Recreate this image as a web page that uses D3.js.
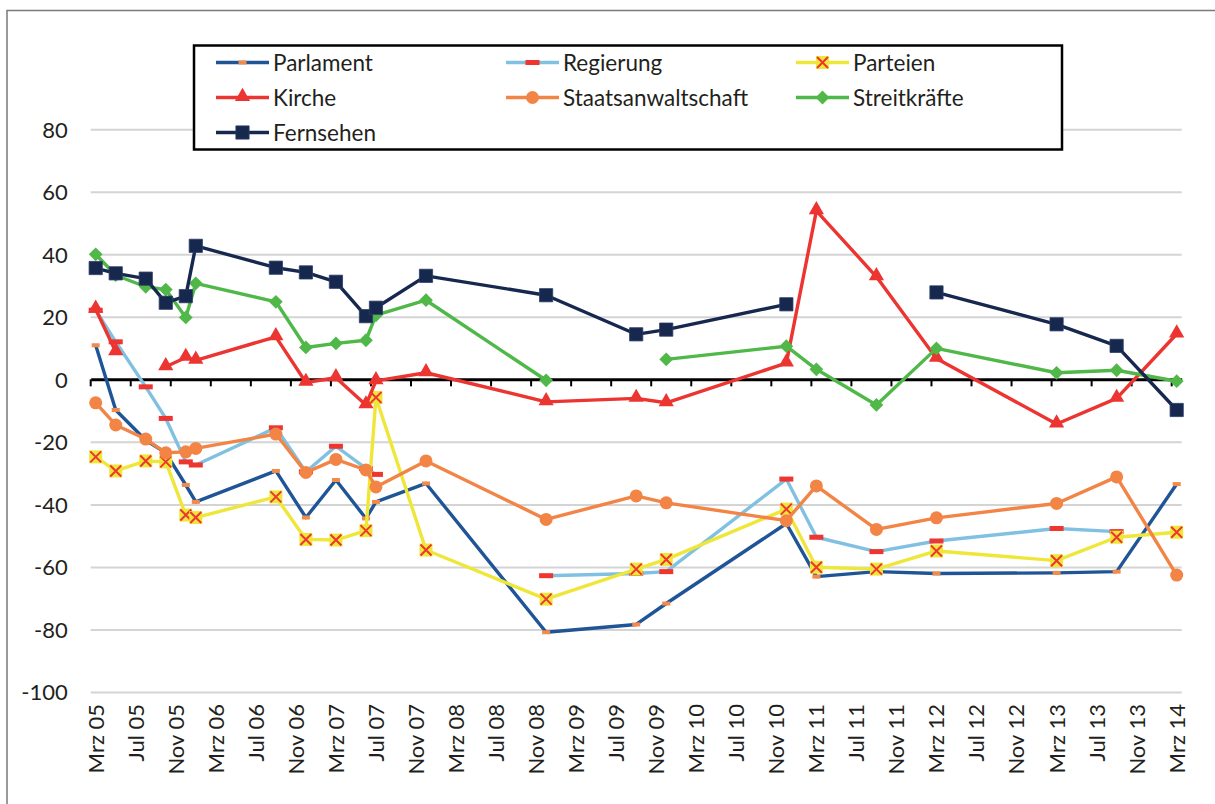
<!DOCTYPE html>
<html>
<head>
<meta charset="utf-8">
<script src="https://cdn.jsdelivr.net/npm/d3@7"></script>
<style>
  body { margin: 0; background: #fff; }
  text { font-family: Lato, "Open Sans", sans-serif; fill: #231f20; }
</style>
</head>
<body>
<div id="chart"></div>
<script>
// survey months (YYYY-MM)
const surveyDates = ['2005-03','2005-05','2005-08','2005-10','2005-12','2006-01','2006-09','2006-12',
  '2007-03','2007-06','2007-07','2007-12','2008-12','2009-09','2009-12','2010-12','2011-03','2011-09',
  '2012-03','2013-03','2013-09','2014-03'];

const parlament = [10.9, -9.8, -19.5, -23.5, -33.8, -39.2, -29.3, -44.2, -32.2, -44.5, -39.2, -33.3,
  -80.9, -78.4, -71.7, -46.1, -63.1, -61.5, -62.1, -61.9, -61.5, -33.5];
const regierung = [22.1, 12.0, -2.4, -12.5, -26.4, -27.4, -15.5, -29.6, -21.4, -28.5, -30.4, null,
  -62.8, -62.1, -61.5, -31.9, -50.5, -55.1, -51.7, -47.7, -48.7, null];
const parteien = [-24.8, -29.3, -26.1, -26.4, -43.4, -44.2, -37.6, -51.2, -51.4, -48.4, -5.8, -54.6,
  -70.3, -60.7, -57.6, -41.5, -60.1, -60.7, -54.9, -58.0, -50.5, -48.9];
const kirche = [22.4, 8.8, null, 4.0, 7.0, 6.1, 13.6, -1.0, 0.5, -8.2, -0.5, 2.1,
  -7.2, -6.1, -7.5, 5.2, 53.9, 32.8, 6.7, -14.3, -6.1, 14.5];
const staatsanwaltschaft = [-7.5, -14.6, -19.1, -23.5, -23.2, -22.1, -17.5, -29.8, -25.6, -29.0, -34.4, -26.1,
  -44.8, -37.3, -39.5, -45.2, -34.1, -48.0, -44.3, -39.7, -31.2, -62.6];
const streitkraefte = [40.0, 33.3, 29.6, 28.7, 19.8, 30.7, 24.8, 10.2, 11.5, 12.5, 20.5, 25.3,
  -0.3, null, 6.4, 10.6, 3.2, -8.2, 9.9, 2.1, 2.9, -0.6];
const fernsehen = [35.6, 33.9, 32.2, 24.5, 26.6, 42.7, 35.7, 34.2, 31.2, 20.2, 22.9, 33.1,
  26.9, 14.4, 15.9, 24.0, null, null, 27.8, 17.6, 10.7, -9.8];

const seriesNames = ['Parlament', 'Regierung', 'Parteien', 'Kirche', 'Staatsanwaltschaft', 'Streitkräfte', 'Fernsehen'];

const xTickLabels = ['Mrz 05','Jul 05','Nov 05','Mrz 06','Jul 06','Nov 06','Mrz 07','Jul 07','Nov 07',
  'Mrz 08','Jul 08','Nov 08','Mrz 09','Jul 09','Nov 09','Mrz 10','Jul 10','Nov 10','Mrz 11','Jul 11',
  'Nov 11','Mrz 12','Jul 12','Nov 12','Mrz 13','Jul 13','Nov 13','Mrz 14'];
const yTicks = [-100, -80, -60, -40, -20, 0, 20, 40, 60, 80];

const W = 1215, H = 804;
const plot = {left: 90.7, right: 1181.7, top: 129.2, bottom: 692};

const series = [
  {name: seriesNames[0], values: parlament, line: '#1f5597', marker: 'dash', mcolor: '#f28a4c'},
  {name: seriesNames[1], values: regierung, line: '#80c1e1', marker: 'bar', mcolor: '#ee3530'},
  {name: seriesNames[2], values: parteien, line: '#eee73a', marker: 'x', mcolor: '#ee3530'},
  {name: seriesNames[3], values: kirche, line: '#ec3431', marker: 'triangle', mcolor: '#ec3431'},
  {name: seriesNames[4], values: staatsanwaltschaft, line: '#f28445', marker: 'circle', mcolor: '#f28445'},
  {name: seriesNames[5], values: streitkraefte, line: '#50b848', marker: 'diamond', mcolor: '#50b848'},
  {name: seriesNames[6], values: fernsehen, line: '#17284f', marker: 'square', mcolor: '#17284f'}
];

const parseMonth = d3.timeParse('%Y-%m');
const monthKey = d3.timeFormat('%Y-%m');
const allMonths = d3.timeMonth.range(parseMonth('2005-03'), parseMonth('2014-04')).map(monthKey);

const x = d3.scaleBand()
  .domain(allMonths)
  .range([plot.left, plot.right])
  .padding(0);
const bw = x.bandwidth();
const xc = k => x(k) + bw / 2;

const y = d3.scaleLinear()
  .domain([-100, 80])
  .range([plot.bottom, plot.top]);

const svg = d3.select('#chart')
  .append('svg')
  .attr('width', W)
  .attr('height', H);

// outer frame
svg.append('rect')
  .attr('x', 7).attr('y', 10.5)
  .attr('width', 1400).attr('height', 1000)
  .attr('fill', 'none')
  .attr('stroke', '#7a7a7a')
  .attr('stroke-width', 1.5);

// gridlines
const grid = svg.append('g')
  .attr('transform', `translate(${plot.left},0)`)
  .call(d3.axisLeft(y).tickValues(yTicks.filter(d => d !== 0)).tickSize(-(plot.right - plot.left)).tickFormat(''));
grid.select('.domain').remove();
grid.selectAll('line').attr('stroke', '#d4d4d4').attr('stroke-width', 2);

// y labels (plain hyphen minus like the original)
const yAxis = svg.append('g')
  .attr('transform', `translate(${plot.left},0)`)
  .call(d3.axisLeft(y).tickValues(yTicks).tickSize(0).tickPadding(23).tickFormat(d => String(d)));
yAxis.select('.domain').remove();
yAxis.selectAll('text')
  .style('font-size', '22px')
  .attr('dy', '0.36em')
  .attr('fill', '#231f20');

// zero axis with tick marks at month boundaries
const tickMonths = allMonths.filter((d, i) => i % 4 === 0);
const zeroAxis = svg.append('g')
  .attr('transform', `translate(0,${y(0)})`)
  .call(d3.axisBottom(x).tickValues(tickMonths).tickSize(7).tickSizeOuter(0).tickFormat(''));
zeroAxis.select('.domain').attr('stroke', '#000').attr('stroke-width', 3);
zeroAxis.selectAll('.tick line')
  .attr('stroke', '#000')
  .attr('stroke-width', 2)
  .attr('transform', `translate(${-bw / 2},0)`);

// bottom labels
const labelAxis = svg.append('g')
  .attr('transform', `translate(0,${plot.bottom})`)
  .call(d3.axisBottom(x).tickValues(tickMonths).tickSize(0).tickFormat((d, i) => xTickLabels[i]));
labelAxis.select('.domain').remove();
labelAxis.selectAll('text')
  .style('font-size', '22px')
  .attr('text-anchor', 'end')
  .attr('fill', '#231f20')
  .attr('transform', 'rotate(-90)')
  .attr('x', -12)
  .attr('y', 0)
  .attr('dy', '0.36em');

function drawMarker(g, type, color) {
  if (type === 'dash') {
    g.append('rect').attr('x', -4).attr('y', -2).attr('width', 8).attr('height', 4).attr('fill', color);
  } else if (type === 'bar') {
    g.append('rect').attr('x', -7).attr('y', -2.5).attr('width', 14).attr('height', 5).attr('fill', color);
  } else if (type === 'x') {
    g.append('rect').attr('x', -6.5).attr('y', -6.5).attr('width', 13).attr('height', 13).attr('fill', '#eee73a');
    g.append('path').attr('d', 'M-5.5,-5.5L5.5,5.5M-5.5,5.5L5.5,-5.5').attr('stroke', color).attr('stroke-width', 2);
  } else if (type === 'triangle') {
    g.append('path').attr('d', d3.symbol(d3.symbolTriangle, 100)()).attr('fill', color)
      .attr('transform', 'translate(0,-1)');
  } else if (type === 'circle') {
    g.append('circle').attr('r', 6.5).attr('fill', color);
  } else if (type === 'diamond') {
    g.append('path').attr('d', d3.symbol(d3.symbolSquare, 95)()).attr('fill', color)
      .attr('transform', 'rotate(45)');
  } else if (type === 'square') {
    g.append('path').attr('d', d3.symbol(d3.symbolSquare, 175)()).attr('fill', color)
      .attr('stroke', '#2c3d68').attr('stroke-width', 0.8);
  }
}

const line = d3.line()
  .defined(d => d.v !== null)
  .x(d => xc(d.date))
  .y(d => y(d.v));

series.forEach(s => {
  const pts = surveyDates.map((date, i) => ({date: date, v: s.values[i]}));
  const g = svg.append('g').attr('class', 'series');
  g.append('path')
    .datum(pts)
    .attr('fill', 'none')
    .attr('stroke', s.line)
    .attr('stroke-width', 3.4)
    .attr('stroke-linejoin', 'round')
    .attr('d', line);
  g.selectAll('.m')
    .data(pts.filter(d => d.v !== null))
    .enter()
    .append('g')
    .attr('class', 'm')
    .attr('transform', d => `translate(${xc(d.date)},${y(d.v)})`)
    .each(function() { drawMarker(d3.select(this), s.marker, s.mcolor); });
});

// legend
const legend = svg.append('g').attr('transform', 'translate(194,45.5)');
legend.append('rect')
  .attr('width', 868).attr('height', 104)
  .attr('fill', '#fff')
  .attr('stroke', '#000')
  .attr('stroke-width', 2.5);

const items = legend.selectAll('.item')
  .data(series)
  .enter()
  .append('g')
  .attr('class', 'item')
  .attr('transform', (d, i) => `translate(${22 + (i % 3) * 290},${17 + Math.floor(i / 3) * 35})`);
items.append('line')
  .attr('x1', 0).attr('x2', 53)
  .attr('stroke', d => d.line)
  .attr('stroke-width', 3.5);
items.append('g')
  .attr('transform', 'translate(26.5,0)')
  .each(function(d) { drawMarker(d3.select(this), d.marker, d.mcolor); });
items.append('text')
  .attr('x', 57)
  .attr('dy', '0.36em')
  .style('font-size', '22.5px')
  .text(d => d.name);
</script>
</body>
</html>
